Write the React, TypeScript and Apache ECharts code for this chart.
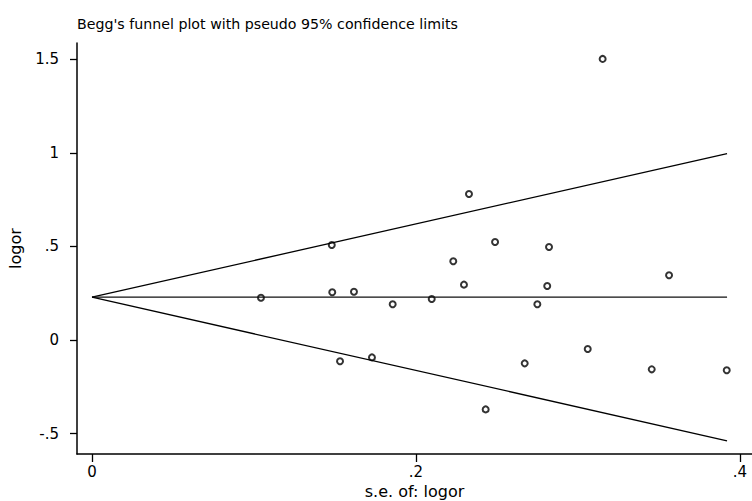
import React, { useEffect, useRef } from "react";
import * as echarts from "echarts";

// Study points: standard error of logor, logor
const seValues = [
  0.3152, 0.2327, 0.148, 0.2488, 0.2821, 0.223, 0.2296, 0.1483, 0.1617, 0.1043, 0.1856,
  0.2097, 0.2749, 0.281, 0.3562, 0.1531, 0.1728, 0.2671, 0.306, 0.3455, 0.3918, 0.243,
];
const logorValues = [
  1.503, 0.781, 0.508, 0.524, 0.497, 0.421, 0.296, 0.255, 0.258, 0.226, 0.191,
  0.219, 0.191, 0.289, 0.346, -0.114, -0.093, -0.125, -0.048, -0.157, -0.162, -0.371,
];

// Funnel (pseudo 95% confidence limits)
const funnelSe = [0, 0.392];
const funnelCenter = [0.229, 0.229];
const funnelUpper = [0.229, 0.997];
const funnelLower = [0.229, -0.539];

const xTicks = [0, 0.2, 0.4];
const xTickLabels = ["0", ".2", ".4"];
const yTicks = [-0.5, 0, 0.5, 1, 1.5];
const yTickLabels = ["-.5", "0", ".5", "1", "1.5"];

const titleText = "Begg's funnel plot with pseudo 95% confidence limits";
const xName = "s.e. of: logor";
const yName = "logor";

export default function App() {
  const ref = useRef<HTMLDivElement>(null);
  useEffect(() => {
    document.body.style.margin = "0";
    const chart = echarts.init(ref.current!, null, { renderer: "svg" });
    const font = "'DejaVu Sans', sans-serif";
    const points = seValues.map((s, i) => [s, logorValues[i]]);
    const mk = (ys: number[]) => funnelSe.map((s, i) => [s, ys[i]]);
    const fmtX = (v: number) => {
      const i = xTicks.findIndex((t) => Math.abs(t - v) < 1e-9);
      return i >= 0 ? xTickLabels[i] : "";
    };
    const fmtY = (v: number) => {
      const i = yTicks.findIndex((t) => Math.abs(t - v) < 1e-9);
      return i >= 0 ? yTickLabels[i] : "";
    };
    chart.setOption({
      animation: false,
      backgroundColor: "#fff",
      title: {
        text: titleText,
        left: 72,
        top: 12,
        textStyle: { fontFamily: font, fontSize: 14.2, fontWeight: "normal", color: "#000" },
      },
      grid: { left: 77, top: 43, right: 0, bottom: 47, outerBoundsMode: "none", containLabel: false },
      xAxis: {
        type: "value",
        min: -0.00926,
        max: 0.4074,
        name: xName,
        nameLocation: "middle",
        nameGap: 25,
        nameTextStyle: { fontFamily: font, fontSize: 16, color: "#000" },
        splitLine: { show: false },
        axisLine: { onZero: false, lineStyle: { color: "#000", width: 1.5 } },
        axisTick: { show: true, length: 8, lineStyle: { color: "#000", width: 1.3 }, customValues: xTicks },
        axisLabel: {
          customValues: xTicks,
          formatter: fmtX,
          margin: 10,
          fontFamily: font,
          fontSize: 15,
          color: "#000",
        },
      },
      yAxis: {
        type: "value",
        min: -0.6096,
        max: 1.588,
        name: yName,
        nameLocation: "middle",
        nameGap: 54,
        nameTextStyle: { fontFamily: font, fontSize: 16, color: "#000" },
        splitLine: { show: false },
        axisLine: { show: true, onZero: false, lineStyle: { color: "#000", width: 1.5 } },
        axisTick: { show: true, length: 7, lineStyle: { color: "#000", width: 1.3 }, customValues: yTicks },
        axisLabel: {
          customValues: yTicks,
          formatter: fmtY,
          margin: 18,
          fontFamily: font,
          fontSize: 15,
          color: "#000",
        },
      },
      series: [
        {
          type: "line",
          data: mk(funnelUpper),
          symbol: "none",
          lineStyle: { color: "#000", width: 1.3 },
        },
        {
          type: "line",
          data: mk(funnelCenter),
          symbol: "none",
          lineStyle: { color: "#111", width: 1.2 },
        },
        {
          type: "line",
          data: mk(funnelLower),
          symbol: "none",
          lineStyle: { color: "#000", width: 1.3 },
        },
        {
          type: "scatter",
          data: points,
          symbol: "emptyCircle",
          symbolSize: 6,
          itemStyle: { color: "#000", borderColor: "#000", borderWidth: 1.2 },
        },
      ],
    });
    return () => chart.dispose();
  }, []);
  return <div ref={ref} style={{ width: 752, height: 501 }} />;
}
